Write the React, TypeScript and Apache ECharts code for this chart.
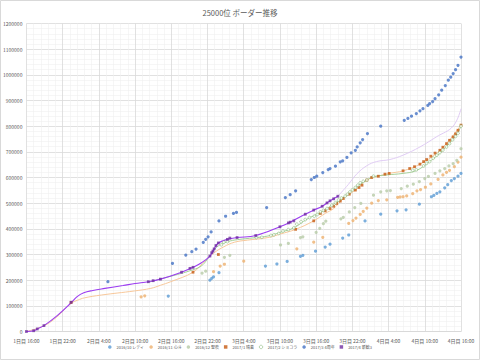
import React, { useEffect, useRef } from "react";
import * as echarts from "echarts";

const TITLE = "25000位 ボーダー推移";
const LEGEND_NAMES = ["2016/10 レディ", "2016/11 心斗", "2016/12 聖夜", "2017/1 晴着", "2017/2 ショコラ", "2017/3 4周年", "2017/4 新歓3"];

// [hours since 1日目 16:00, points]
const s1610: number[][] = [[23.5,138000],[30.4,200000],[30.7,207000],[31.0,213000],[31.9,229000],[39.6,255000],[41.5,263000],[43.2,273000],[45.4,293000],[45.8,297000],[47.9,313000],[49.5,329000],[50.3,340000],[52.4,364000],[53.4,376000],[56.1,431000],[58.7,457000],[61.4,470000],[62.9,474000],[65.1,496000],[67.1,525000],[67.5,530000],[68.0,538000],[68.5,544000],[69.3,560000],[69.8,572000],[70.4,588000],[70.9,596000],[71.5,605000],[72.0,616000]];
const s1611: number[][] = [[19.0,135000],[19.6,139000],[31.0,233000],[32.1,255000],[32.8,262000],[36.0,274000],[44.8,322000],[47.6,348000],[49.1,367000],[53.4,421000],[54.1,432000],[54.6,442000],[55.3,456000],[55.8,468000],[56.4,481000],[57.2,500000],[58.3,510000],[59.7,513000],[61.5,523000],[61.9,524000],[62.4,525000],[63.0,528000],[64.0,537000],[64.7,548000],[65.3,553000],[66.1,562000],[67.0,575000],[68.2,593000],[69.0,610000],[69.6,620000],[70.1,628000],[70.9,642000],[71.5,660000],[72.0,679000]];
const s1612: number[][] = [[29.1,227000],[29.7,235000],[32.8,289000],[33.7,297000],[42.1,337000],[43.4,343000],[45.4,366000],[45.8,369000],[48.0,386000],[48.6,402000],[49.2,420000],[49.6,430000],[52.1,439000],[52.5,445000],[53.5,466000],[54.4,483000],[55.4,499000],[57.5,531000],[58.7,544000],[59.7,548000],[60.3,549000],[62.1,557000],[63.1,566000],[64.1,574000],[65.1,584000],[66.0,596000],[66.6,604000],[67.7,616000],[68.5,626000],[69.3,635000],[70.0,645000],[70.7,654000],[71.3,667000],[72.0,712000]];
const s1701: number[][] = [[7.4,113000],[27.6,231000],[31.8,300000],[44.6,398000],[47.6,431000],[48.7,460000],[49.5,470000],[50.3,479000],[50.9,488000],[51.4,499000],[52.0,508000],[52.5,518000],[53.5,535000],[54.5,551000],[55.1,561000],[55.6,570000],[56.4,590000],[57.2,600000],[58.3,605000],[59.4,613000],[60.1,616000],[62.4,626000],[63.5,635000],[64.3,642000],[65.2,652000],[65.8,662000],[66.3,670000],[67.0,683000],[67.7,695000],[68.5,706000],[69.0,718000],[69.6,732000],[70.1,745000],[70.7,758000],[71.1,770000],[71.5,784000],[72.0,804000]];
const s1702: number[][] = [[32.3,338000],[32.7,348000],[33.3,350000],[38.1,366000],[39.0,367000],[40.5,374000],[41.0,377000],[41.8,382000],[42.5,391000],[43.4,397000],[44.3,404000],[44.8,418000],[45.5,428000],[46.2,436000],[46.9,444000],[47.7,449000],[48.2,456000],[48.7,466000],[49.2,472000],[49.8,479000],[50.6,492000],[51.2,502000],[51.7,512000],[52.2,520000],[52.8,527000],[53.2,535000],[53.6,544000],[54.0,552000],[54.5,561000],[54.9,570000],[55.3,579000],[55.8,585000],[56.4,590000],[57.5,605000],[64.0,628000],[64.6,630000],[65.8,645000],[66.3,655000],[66.8,662000],[67.4,675000],[68.0,687000],[68.5,697000],[69.0,707000],[69.6,719000],[70.1,732000],[70.6,747000],[71.1,760000],[71.5,772000],[72.0,800000]];
const s1703: number[][] = [[13.5,194000],[24.2,265000],[26.4,298000],[27.4,311000],[28.1,321000],[29.3,347000],[29.7,359000],[30.1,369000],[30.6,388000],[31.9,431000],[33.0,449000],[34.3,460000],[34.8,464000],[39.8,483000],[42.9,522000],[43.7,533000],[44.6,548000],[47.2,592000],[47.7,600000],[48.1,605000],[49.1,619000],[50.0,631000],[50.3,635000],[51.2,644000],[52.0,661000],[52.4,665000],[53.1,678000],[53.8,696000],[54.5,706000],[54.8,719000],[55.3,735000],[55.7,748000],[56.5,771000],[58.7,800000],[62.6,823000],[63.2,830000],[63.8,839000],[64.6,849000],[65.2,860000],[65.7,868000],[66.5,881000],[66.8,888000],[67.3,896000],[67.7,907000],[68.3,922000],[68.8,940000],[69.4,958000],[69.9,979000],[70.3,991000],[70.7,1005000],[71.1,1020000],[71.5,1037000],[72.0,1069000]];
const s1704: number[][] = [[0,0],[1.2,3000],[1.8,10000],[2.9,23000],[7.4,114000],[20.2,194000],[21.0,198000],[22.2,204000],[25.7,231000],[27.1,246000],[27.6,250000],[30.4,294000],[30.7,307000],[30.9,313000],[31.1,322000],[31.4,335000],[31.8,345000],[33.3,359000],[33.7,364000],[34.9,366000],[38.0,374000],[42.0,408000],[43.4,423000],[43.7,426000],[44.3,431000],[46.2,457000],[47.6,473000],[49.0,488000],[49.8,501000],[50.3,509000],[50.9,517000],[51.6,527000]];

// curves drawn through / beyond the markers
const curvePurple: number[][] = [[0,0],[1.2,3000],[1.8,10000],[2.9,23000],[5,60000],[7.4,112000],[8.4,136000],[9.5,151000],[11,160000],[13,168000],[16,179000],[18,187000],[20.2,194000],[22.2,204000],[25.7,231000],[27.6,250000],[29,268000],[30.4,294000],[31.1,322000],[31.8,345000],[33.3,359000],[34.9,366000],[38,374000],[42,408000],[43.7,426000],[46.2,457000],[47.6,473000],[49,488000],[50.3,509000],[51.6,527000]];
const curveLavender: number[][] = [[51.6,527000],[53.3,572000],[54.7,613000],[56.4,646000],[58,662000],[60.2,670000],[62.4,687000],[65.2,719000],[67.9,758000],[70.7,800000],[72,868000]];
const curvePeach: number[][] = [[0,0],[2.9,22000],[5,56000],[7.4,110000],[8.5,122000],[9.6,131000],[12.4,142000],[17.9,158000],[20.6,168000],[22.2,180000],[23.9,194000],[27.6,231000],[29.7,278000],[31.1,307000],[32.7,330000],[34.5,348000],[36.6,356000],[40,366000],[42.1,380000],[44.6,398000],[47.6,431000],[49.5,460000],[50.9,479000],[52.5,518000],[54.5,551000],[56.4,590000],[58.3,605000],[60.1,616000],[62.4,626000],[65.2,652000],[68.5,706000],[72,804000]];
const curveGreen: number[][] = [[20.0,190000],[22.4,206000],[25,222000],[27,236000],[28.9,254000],[30,282000],[31.4,326000],[32.3,340000],[33.3,350000],[35,358000],[37.7,365000],[40,372000],[42,386000],[44.3,404000],[46.5,438000],[48.7,464000],[50.6,492000],[52.8,527000],[54.5,561000],[56.4,590000],[57.5,603000],[59.7,610000],[62.4,616000],[64.6,627000],[66.8,662000],[69,706000],[71.2,765000],[72,800000]];

const FONT = "Noto Sans CJK JP";
const GREEN = "#70A85E";

export default function App() {
  const ref = useRef<HTMLDivElement>(null);
  useEffect(() => {
    if (!ref.current) return;
    const chart = echarts.init(ref.current, undefined, { renderer: "svg" });
    const line = (data: number[][], color: string, width: number) => ({
      type: "line", data, smooth: 0.4, showSymbol: false, symbol: "none", z: 1,
      lineStyle: { color, width }, silent: true,
    });
    const sc = (name: string, data: number[][], color: string, symbol: string, size: number, z = 3, hollow = false) => ({
      type: "scatter", name, data, symbol, symbolSize: size, z,
      itemStyle: hollow
        ? { color: "#ffffff", borderColor: color, borderWidth: 0.6 }
        : { color, borderWidth: 0 },
    });
    const legendData = LEGEND_NAMES.map((n, i) =>
      i === 4
        ? { name: n, icon: "circle", itemStyle: { color: "#ffffff", borderColor: GREEN, borderWidth: 0.6 } }
        : { name: n });
    chart.setOption({
      animation: false,
      backgroundColor: "#ffffff",
      textStyle: { fontFamily: FONT },
      title: {
        text: TITLE, left: "center", top: 4,
        textStyle: { fontSize: 7.5, fontWeight: "normal", color: "#595959", fontFamily: FONT },
      },
      graphic: [{
        type: "rect", shape: { x: 0.5, y: 0.5, width: 479, height: 359 },
        style: { fill: "none", stroke: "#D9D9D9", lineWidth: 1 }, silent: true, z: -1,
      }],
      legend: {
        data: legendData, bottom: 6, left: "center", itemWidth: 3.5, itemHeight: 3.5, itemGap: 5,
        textStyle: { fontSize: 4, color: "#595959", fontFamily: FONT },
      },
      grid: { left: 25, right: 19, top: 23.5, bottom: 28.5, containLabel: false },
      xAxis: {
        type: "value", min: 0, max: 72, interval: 6,
        axisLine: { show: true, lineStyle: { color: "#D9D9D9" } },
        axisTick: { show: false },
        minorTick: { show: false, splitNumber: 5 },
        splitLine: { show: true, lineStyle: { color: "#D9D9D9", width: 0.8 } },
        minorSplitLine: { show: true, lineStyle: { color: "#F0F0F0", width: 0.6 } },
        axisLabel: {
          fontSize: 5, color: "#595959", margin: 6, fontFamily: FONT,
          formatter: (v: number) => `${Math.floor((16 + v) / 24) + 1}日目 ${(16 + v) % 24}:00`,
        },
      },
      yAxis: {
        type: "value", min: 0, max: 1200000, interval: 100000,
        axisLine: { show: false }, axisTick: { show: false },
        minorTick: { show: false, splitNumber: 5 },
        splitLine: { show: true, lineStyle: { color: "#D9D9D9", width: 0.8 } },
        minorSplitLine: { show: true, lineStyle: { color: "#F0F0F0", width: 0.6 } },
        axisLabel: { fontSize: 5, color: "#595959", margin: 4, fontFamily: FONT, formatter: (v: number) => String(v) },
      },
      series: [
        line(curvePeach, "#F8C89A", 1),
        line(curveGreen, "#9CCB8F", 0.9),
        line(curveLavender, "#DCC6F3", 0.9),
        line(curvePurple, "#9B3CF0", 1.1),
        sc(LEGEND_NAMES[0], s1610, "#5B9BD5", "circle", 3.2),
        sc(LEGEND_NAMES[1], s1611, "#EDB06E", "circle", 3.2),
        sc(LEGEND_NAMES[2], s1612, "#B6CBA6", "circle", 3.2),
        sc(LEGEND_NAMES[3], s1701, "#C55A11", "rect", 2.8),
        sc(LEGEND_NAMES[4], s1702, GREEN, "circle", 2.8, 3, true),
        sc(LEGEND_NAMES[5], s1703, "#4472C4", "circle", 3.2),
        sc(LEGEND_NAMES[6], s1704, "#7030A0", "rect", 2.8, 4),
      ],
    });
    return () => chart.dispose();
  }, []);
  return <div ref={ref} style={{ position: "fixed", left: 0, top: 0, width: 480, height: 360 }} />;
}
